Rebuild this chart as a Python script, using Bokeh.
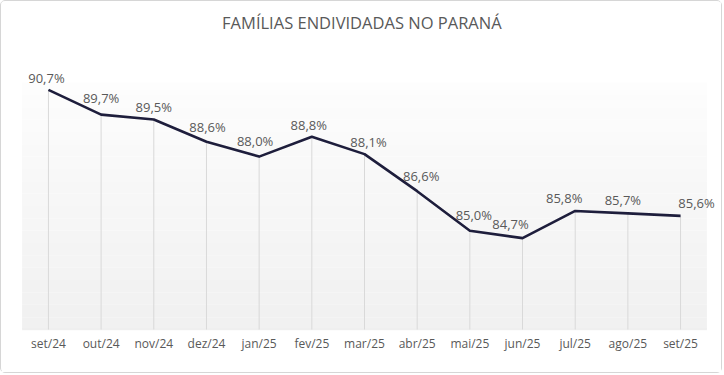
from bokeh.plotting import figure
from bokeh.models import BoxAnnotation, ColumnDataSource, FactorRange, Range1d, LabelSet, Label
from bokeh.core.properties import value
from bokeh.embed import file_html
from bokeh.resources import INLINE
import numpy as np

months = ["set/24", "out/24", "nov/24", "dez/24", "jan/25", "fev/25", "mar/25",
          "abr/25", "mai/25", "jun/25", "jul/25", "ago/25", "set/25"]
pct = [90.7, 89.7, 89.5, 88.6, 88.0, 88.8, 88.1, 86.6, 85.0, 84.7, 85.8, 85.7, 85.6]
labels = [f"{v:.1f}%".replace(".", ",") for v in pct]
title_text = "FAMÍLIAS ENDIVIDADAS NO PARANÁ"

# label placement tweaks (pixels), styling only
label_dx = [-2, 0, 0, 1, -4, -3, 4, 4, 4, -12, -11, -5, 16]
label_dy = [12, 17, 13, 15, 16, 12, 12, 15, 16, 14, 13, 13, 13]

Y0, Y1 = 81, 91          # value-axis span of the plot area
PX = 24.7                # pixels per unit (layout)
V_BOT = Y0 - 2 / PX
V_TOP = V_BOT + 329 / PX
FONT = "Open Sans"
NCAT = len(months)

p = figure(width=722, height=373, x_range=FactorRange(*months), y_range=Range1d(V_BOT, V_TOP),
           output_backend="svg", toolbar_location=None,
           min_border_left=4, min_border_right=0, min_border_bottom=43, min_border_top=1)
p.styles = {"border": "1px solid #d6d6d6", "border-radius": "5px"}
p.x_range.range_padding = 0.0485

p.outline_line_color = None
p.background_fill_color = "#ffffff"
p.border_fill_color = "#ffffff"
p.xgrid.grid_line_color = None
p.ygrid.grid_line_color = None
p.yaxis.visible = False

# subtle gradient background of plot area
edges = np.linspace(Y0, Y1, 21)
shades = np.linspace(0xf1, 0xfd, 20).astype(int)
for b, t, s in zip(edges[:-1], edges[1:], shades):
    p.add_layout(BoxAnnotation(left=0, right=NCAT, bottom=b, top=t,
                               fill_color="#%02x%02x%02x" % (s, s, s),
                               fill_alpha=1, line_color=None, level="underlay"))
# category axis baseline
p.add_layout(BoxAnnotation(left=0, right=NCAT, bottom=Y0, top=Y0, fill_alpha=0,
                           line_color="#d9d9d9", line_width=1.5, level="underlay"))

src = ColumnDataSource(dict(x=months, y=pct, lab=labels, dx=label_dx, dy=label_dy,
                            base=[Y0] * len(pct)))

p.segment(x0="x", y0="base", x1="x", y1="y", source=src, line_color="#d9d9d9", line_width=1)
p.line(x="x", y="y", source=src, line_color="#1e1e3c", line_width=2.6, line_join="round")
p.add_layout(LabelSet(x="x", y="y", text="lab", source=src, x_offset="dx", y_offset="dy",
                      text_align="center", text_baseline="middle", text_font=value(FONT),
                      text_font_size="13px", text_color="#595959"))

p.add_layout(Label(x=6.45, y=Y0 + 12.43, text=title_text, text_align="center",
                   text_baseline="middle", text_font=FONT, text_font_size="16.5px",
                   text_color="#595959"))

ax = p.xaxis[0]
ax.axis_line_color = None
ax.major_tick_line_color = None
ax.minor_tick_line_color = None
ax.major_label_text_font = FONT
ax.major_label_text_font_size = "12px"
ax.major_label_text_color = "#595959"
ax.major_label_standoff = -3

open("out.html", "w").write(file_html(p, INLINE))
